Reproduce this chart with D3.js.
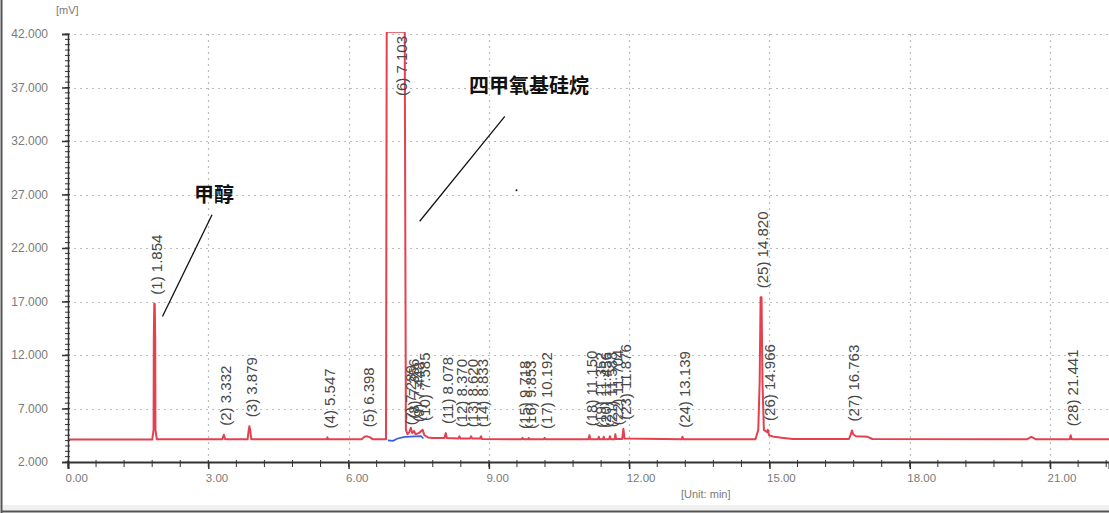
<!DOCTYPE html>
<html>
<head>
<meta charset="utf-8">
<script src="https://cdn.jsdelivr.net/npm/d3@7/dist/d3.min.js"></script>
<style>
  html, body { margin: 0; padding: 0; background: #fff; }
  svg { display: block; }
</style>
</head>
<body>
<svg id="chart" width="1109" height="513"></svg>
<script>
// ---------- data ----------
const yTickValues = [2, 7, 12, 17, 22, 27, 32, 37, 42];
const xTickValues = [0, 3, 6, 9, 12, 15, 18, 21];

// chromatogram trace: [time (min), signal (mV)]
const traceTimes = [0.00,1.80,1.83,1.835,1.845,1.855,1.865,1.87,1.90,
  3.30,3.332,3.36,3.84,3.865,3.879,3.895,3.92,
  5.53,5.547,5.565,6.28,6.34,6.398,6.46,6.52,
  6.80,6.815,7.20,7.225,7.26,7.30,7.33,7.36,7.40,7.43,7.50,7.585,7.62,7.70,7.80,
  8.05,8.078,8.10,8.35,8.370,8.39,8.60,8.620,8.64,8.81,8.833,8.85,
  9.70,9.718,9.74,9.84,9.853,9.87,10.17,10.192,10.21,
  11.13,11.150,11.17,11.33,11.352,11.37,11.44,11.456,11.47,11.57,11.588,11.61,11.69,11.704,11.72,11.85,11.876,11.90,
  13.12,13.139,13.16,
  14.70,14.76,14.79,14.81,14.83,14.85,14.88,14.95,14.966,14.99,15.10,15.30,15.50,
  16.70,16.74,16.763,16.79,16.85,17.10,17.20,
  20.50,20.60,20.70,21.42,21.441,21.46,22.30];
const traceValues = [4.10,4.10,5.0,13.5,16.8,16.8,13.5,5.0,4.12,
  4.12,4.55,4.12,4.12,5.0,5.35,5.0,4.12,
  4.12,4.3,4.12,4.12,4.35,4.4,4.3,4.12,
  4.12,42.2,42.2,5.0,4.6,4.8,5.2,4.7,4.9,4.6,4.7,5.0,4.5,4.3,4.25,
  4.25,4.7,4.25,4.2,4.4,4.2,4.2,4.4,4.2,4.2,4.4,4.15,
  4.12,4.25,4.12,4.12,4.25,4.12,4.12,4.25,4.12,
  4.12,4.5,4.12,4.12,4.35,4.12,4.12,4.35,4.12,4.12,4.4,4.12,4.12,4.6,4.15,4.15,5.1,4.2,
  4.12,4.35,4.12,
  4.12,5.0,9.5,17.4,17.4,9.5,5.0,4.8,5.0,4.5,4.35,4.25,4.15,
  4.15,4.6,4.95,4.6,4.4,4.35,4.15,
  4.12,4.35,4.12,4.12,4.5,4.12,4.12];

// integration baseline (blue) under the main peak
const baseTimes = [6.84, 6.95, 7.05, 7.20, 7.55, 7.60];
const baseValues = [4.02, 3.98, 4.2, 4.35, 4.42, 4.2];

// peak table
const peakNumbers = d3.range(1, 29);
const peakTimes = [1.854,3.332,3.879,5.547,6.398,7.103,7.289,7.356,7.448,7.585,
  8.078,8.370,8.620,8.833,9.718,9.853,10.192,11.150,11.352,11.456,11.588,11.704,11.876,
  13.139,14.820,14.966,16.763,21.441];
const peakHeights = [16.8,4.55,5.35,4.3,4.4,42.2,4.6,5.2,4.9,5.0,
  4.7,4.4,4.4,4.4,4.25,4.25,4.25,4.5,4.35,4.35,4.4,4.6,5.1,
  4.35,17.4,5.0,4.95,4.5];

// annotations (data coordinates)
const annoTexts = ["甲醇", "四甲氧基硅烷"];
const annoTextPos = [[3.12, 26.3], [9.86, 36.5]];
const annoLines = [[[3.08, 25.1], [2.02, 15.6]], [[9.34, 34.3], [7.52, 24.5]]];
const annoDots = [[9.59, 27.4]];

// ---------- drawing ----------
const svg = d3.select("#chart");
const W = 1109, H = 513;
const x = d3.scaleLinear().domain([0, 22.26]).range([68, 1109]);
const y = d3.scaleLinear().domain([2, 42]).range([462, 34]);

// frame
svg.append("rect").attr("x", 0).attr("y", 0).attr("width", W).attr("height", H).attr("fill", "#fff");
svg.append("rect").attr("x", 2).attr("y", 505).attr("width", W - 2).attr("height", 6).attr("fill", "#f0f0f0");
svg.append("line").attr("x1", 2).attr("x2", W).attr("y1", 511.5).attr("y2", 511.5).attr("stroke", "#555").attr("stroke-width", 2);
svg.append("line").attr("x1", 1.5).attr("x2", 1.5).attr("y1", 0).attr("y2", H).attr("stroke", "#555").attr("stroke-width", 2);

// grid
const grid = svg.append("g");
grid.selectAll("line.h").data(yTickValues.filter(d => d > 2)).join("line")
  .attr("x1", x(0)).attr("x2", W).attr("y1", d => Math.round(y(d)) + 0.5).attr("y2", d => Math.round(y(d)) + 0.5)
  .attr("stroke", "#bcbcbc").attr("stroke-width", 1.2).attr("stroke-dasharray", "2,4");
grid.selectAll("line.v").data(xTickValues.filter(d => d > 0)).join("line")
  .attr("x1", d => Math.round(x(d)) + 0.5).attr("x2", d => Math.round(x(d)) + 0.5).attr("y1", y(42)).attr("y2", y(2))
  .attr("stroke", "#bcbcbc").attr("stroke-width", 1.2).attr("stroke-dasharray", "2,4");

// clip
svg.append("clipPath").attr("id", "plotclip").append("rect")
  .attr("x", x(0)).attr("y", 32).attr("width", W - x(0)).attr("height", y(2) - 32);

const trace = traceTimes.map((t, i) => [t, traceValues[i]]);
const base = baseTimes.map((t, i) => [t, baseValues[i]]);
const line = d3.line().x(d => x(d[0])).y(d => y(d[1]));

const plot = svg.append("g").attr("clip-path", "url(#plotclip)");
plot.append("path").datum(base).attr("d", line).attr("fill", "none")
  .attr("stroke", "#3a5ee0").attr("stroke-width", 1.6);
plot.append("path").datum(trace).attr("d", line).attr("fill", "none")
  .attr("stroke", "#e4404e").attr("stroke-width", 2).attr("stroke-linejoin", "round");

// axes
const yAxis = d3.axisLeft(y).tickValues(yTickValues).tickFormat(d3.format(".3f")).tickSize(6).tickPadding(14);
const gy = svg.append("g").attr("transform", `translate(${x(0)},0)`).call(yAxis);
gy.select(".domain").attr("stroke", "#333").attr("stroke-width", 1.5);
gy.selectAll(".tick line").attr("stroke", "#333").attr("stroke-width", 1.5);
gy.selectAll(".tick text").attr("fill", "#7a7a7a").style("font-family", "Liberation Sans, Arial, sans-serif").style("font-size", "12px");
svg.append("g").selectAll("line").data(d3.range(2, 42.01, 0.5)).join("line")
  .attr("x1", x(0) - 3).attr("x2", x(0) + 2).attr("y1", d => y(d)).attr("y2", d => y(d))
  .attr("stroke", "#333").attr("stroke-width", 1);

const xAxis = d3.axisBottom(x).tickValues(xTickValues).tickFormat(d3.format(".2f")).tickSize(7).tickPadding(5);
const gx = svg.append("g").attr("transform", `translate(0,${y(2)})`).call(xAxis);
gx.select(".domain").attr("stroke", "#333").attr("stroke-width", 2);
gx.selectAll(".tick line").attr("stroke", "#333").attr("stroke-width", 1.5);
gx.selectAll(".tick text").attr("fill", "#7a7a7a").attr("text-anchor", "start").attr("dx", "-3")
  .style("font-family", "Liberation Sans, Arial, sans-serif").style("font-size", "11.5px");
svg.append("g").selectAll("line").data(d3.range(0, 22.3, 0.6)).join("line")
  .attr("x1", d => x(d)).attr("x2", d => x(d)).attr("y1", y(2) - 2).attr("y2", y(2) + 5)
  .attr("stroke", "#333").attr("stroke-width", 1);

// axis titles
svg.append("text").attr("x", x(0) - 12).attr("y", 14).text("[mV]")
  .attr("fill", "#7a7a7a").style("font-family", "Liberation Sans, Arial, sans-serif").style("font-size", "11px");
svg.append("text").attr("x", 681).attr("y", 498).text("[Unit: min]")
  .attr("fill", "#7a7a7a").style("font-family", "Liberation Sans, Arial, sans-serif").style("font-size", "11px");

// peak labels
const labelFont = 15;
const lg = svg.append("g").style("font-family", "Liberation Sans, Arial, sans-serif")
  .style("font-size", labelFont + "px").attr("fill", "#484848");
peakNumbers.forEach((n, i) => {
  const px = x(peakTimes[i]) + 2;
  const str = `(${n}) ${peakTimes[i].toFixed(3)}`;
  const t = lg.append("text").text(str).attr("dy", "0.35em");
  const len = t.node().getComputedTextLength();
  let py = y(peakHeights[i]) - 9;
  let anchor = "start";
  if (py - len < y(42)) { py = y(42) + 2; anchor = "end"; }
  t.attr("text-anchor", anchor).attr("transform", `translate(${px},${py}) rotate(-90)`);
});

// annotations
const ag = svg.append("g");
annoLines.forEach(l => {
  ag.append("line").attr("x1", x(l[0][0])).attr("y1", y(l[0][1])).attr("x2", x(l[1][0])).attr("y2", y(l[1][1]))
    .attr("stroke", "#111").attr("stroke-width", 1.3);
});
annoDots.forEach(d => {
  ag.append("circle").attr("cx", x(d[0])).attr("cy", y(d[1])).attr("r", 1).attr("fill", "#111");
});
annoTexts.forEach((s, i) => {
  ag.append("text").attr("x", x(annoTextPos[i][0])).attr("y", y(annoTextPos[i][1])).text(s)
    .attr("text-anchor", "middle").attr("fill", "#111")
    .style("font-family", "Noto Sans CJK SC, sans-serif").style("font-weight", "700").style("font-size", "20px");
});
</script>
</body>
</html>
